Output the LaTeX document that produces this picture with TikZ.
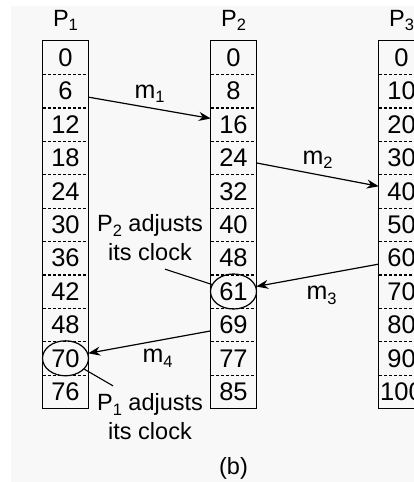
\documentclass[tikz,border=0pt]{standalone}
\usepackage{fontspec}
\setmainfont{Liberation Sans}
\usetikzlibrary{shapes.geometric, arrows.meta, positioning}
\definecolor{bgcol}{RGB}{248,248,248}
\tikzstyle{cell} = [minimum width=45pt, minimum height=33.4pt, inner sep=0pt, text centered, font=\fontsize{25.5}{25.5}\selectfont]
\tikzstyle{col} = [line width=1.3pt]
\tikzstyle{sep} = [line width=1.1pt, dash pattern=on 3pt off 2pt]
\tikzstyle{arrow} = [line width=1.2pt, -{Stealth[length=12pt, width=9pt]}]
\tikzstyle{adj} = [ellipse, draw, line width=1.2pt, minimum width=46pt, minimum height=35pt, inner sep=0pt]
\tikzstyle{pointer} = [line width=1.1pt]
\tikzstyle{msg} = [font=\fontsize{25}{25}\selectfont]
\newcommand{\lsub}[1]{\raisebox{-0.35ex}{\fontsize{16.5}{16.5}\selectfont #1}}

\begin{document}
\fontsize{23.5}{29}\selectfont
\begin{tikzpicture}[x=1pt, y=-1pt]
    \useasboundingbox (0,0) rectangle (414,482);
    \clip (0,0) rectangle (414,482);
    \fill[bgcol] (11,6) rectangle (414,482);

    \foreach \v [count=\i from 0] in {0,6,12,18,24,30,36,42,48,70,76}
        \node[cell] (a\i) at (65.5, {57.7+33.4*\i}) {\v};
    \foreach \v [count=\i from 0] in {0,8,16,24,32,40,48,61,69,77,85}
        \node[cell] (b\i) at (233.5, {57.7+33.4*\i}) {\v};
    \foreach \v [count=\i from 0] in {0,10,20,30,40,50,60,70,80,90,100}
        \node[cell] (c\i) at (401.5, {57.7+33.4*\i}) {\v};

    \foreach \p in {a,b,c} {
        \draw[col] (\p0.north west) rectangle (\p10.south east);
        \foreach \i in {0,...,9}
            \draw[sep] (\p\i.south west) -- (\p\i.south east);
    }

    \node (pa) [above=2pt of a0] {P\lsub{1}};
    \node (pb) [above=2pt of b0] {P\lsub{2}};
    \node (pc) [above=2pt of c0] {P\lsub{3}};

    \draw[arrow] ([yshift=-6pt]a1.east) -- ([yshift=6pt]b2.west) node[msg, midway, yshift=14pt] {m\lsub{1}};
    \draw[arrow] ([yshift=-5pt]b3.east) -- ([yshift=5pt]c4.west) node[msg, midway, yshift=15pt] {m\lsub{2}};
    \draw[arrow] ([yshift=-6pt]c6.west) -- ([yshift=5pt]b7.east) node[msg, midway, xshift=4pt, yshift=-20pt] {m\lsub{3}};
    \draw[arrow] ([yshift=-6pt]b8.west) -- ([yshift=5pt]a9.east) node[msg, midway, xshift=8pt, yshift=-16pt] {m\lsub{4}};

    \node[adj] (e7) at (b7) {};
    \node[adj] (e9) at (a9) {};

    \node (t2) [align=center] at (150,238) {P\lsub{2} adjusts\\its clock};
    \node (t1) [align=center] at (150,417) {P\lsub{1} adjusts\\its clock};
    \node (lb) at (233.5,468) {(b)};

    \draw[pointer] ([xshift=15pt]t2.south) -- (e7);
    \draw[pointer] (e9) -- ([xshift=-37pt]t1.north);
\end{tikzpicture}
\end{document}
